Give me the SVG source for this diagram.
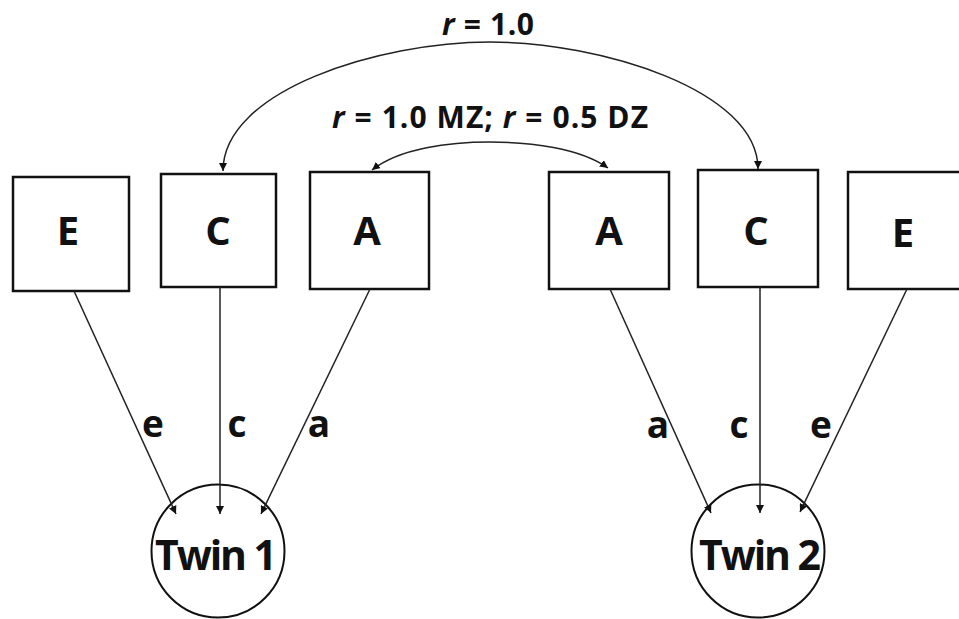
<svg xmlns="http://www.w3.org/2000/svg" width="959" height="619" viewBox="0 0 959 619">
<defs>
<style>
.box{fill:#fff;stroke:#111;stroke-width:2.5}
.circ{fill:none;stroke:#111;stroke-width:2}
.lbl{font-family:"Open Sans","Liberation Sans",sans-serif;font-weight:bold;fill:#111;text-anchor:middle}
.big{font-size:40px}
.path{font-size:37px}
.top{font-size:30px}
.twin{font-size:41px}
.con{fill:none;stroke:#222;stroke-width:1.5}
</style>
<marker id="ah" viewBox="0 0 10 10" refX="10" refY="5" markerWidth="8" markerHeight="8" markerUnits="userSpaceOnUse" orient="auto">
<path d="M0,0 L10,5 L0,10 z" fill="#111"/>
</marker>
<marker id="ahs" viewBox="0 0 10 10" refX="10" refY="5" markerWidth="8" markerHeight="8" markerUnits="userSpaceOnUse" orient="auto-start-reverse">
<path d="M0,0 L10,5 L0,10 z" fill="#111"/>
</marker>
</defs>
<rect width="959" height="619" fill="#fff"/>

<g id="E1"><rect class="box" x="13" y="177" width="116" height="114"/><text class="lbl big" x="68" y="245">E</text></g>
<g id="C1"><rect class="box" x="161" y="174" width="115" height="113"/><text class="lbl big" x="218" y="245">C</text></g>
<g id="A1"><rect class="box" x="310" y="172" width="119" height="117"/><text class="lbl big" x="367" y="245">A</text></g>
<g id="A2"><rect class="box" x="549" y="172" width="120" height="117"/><text class="lbl big" x="609" y="245">A</text></g>
<g id="C2"><rect class="box" x="698" y="170" width="120" height="117"/><text class="lbl big" x="756" y="245">C</text></g>
<g id="E2"><rect class="box" x="848" y="172" width="116" height="117"/><text class="lbl big" x="903" y="247">E</text></g>

<g id="Twin1"><circle class="circ" cx="218" cy="551" r="66.5"/><text class="lbl twin" x="216" y="570" textLength="122">Twin 1</text></g>
<g id="Twin2"><circle class="circ" cx="758" cy="551" r="66.5"/><text class="lbl twin" x="760" y="570" textLength="122">Twin 2</text></g>

<g id="connectors">
<path class="con" d="M490,42 C380,42 223,90 223,171" marker-end="url(#ah)"/>
<path class="con" d="M490,42 C600,42 758,90 758,169" marker-end="url(#ah)"/>
<path class="con" d="M372,170 C400,148 450,142 490,142 C530,142 580,148 608,168" marker-start="url(#ahs)" marker-end="url(#ah)"/>
<line class="con" x1="74" y1="291" x2="176" y2="514" marker-end="url(#ah)"/>
<line class="con" x1="220" y1="287" x2="220" y2="514" marker-end="url(#ah)"/>
<line class="con" x1="370" y1="289" x2="261" y2="514" marker-end="url(#ah)"/>
<line class="con" x1="610" y1="289" x2="711" y2="513" marker-end="url(#ah)"/>
<line class="con" x1="760" y1="287" x2="760" y2="513" marker-end="url(#ah)"/>
<line class="con" x1="907" y1="289" x2="800" y2="512" marker-end="url(#ah)"/>
<text class="lbl top" x="488" y="35" textLength="92"><tspan font-style="italic">r</tspan> = 1.0</text>
<text class="lbl top" x="490" y="128" textLength="316"><tspan font-style="italic">r</tspan> = 1.0 MZ; <tspan font-style="italic">r</tspan> = 0.5 DZ</text>
<text class="lbl path" x="153" y="437">e</text>
<text class="lbl path" x="237" y="437">c</text>
<text class="lbl path" x="319" y="437">a</text>
<text class="lbl path" x="658" y="438">a</text>
<text class="lbl path" x="739" y="438">c</text>
<text class="lbl path" x="821" y="438">e</text>
</g>
</svg>
